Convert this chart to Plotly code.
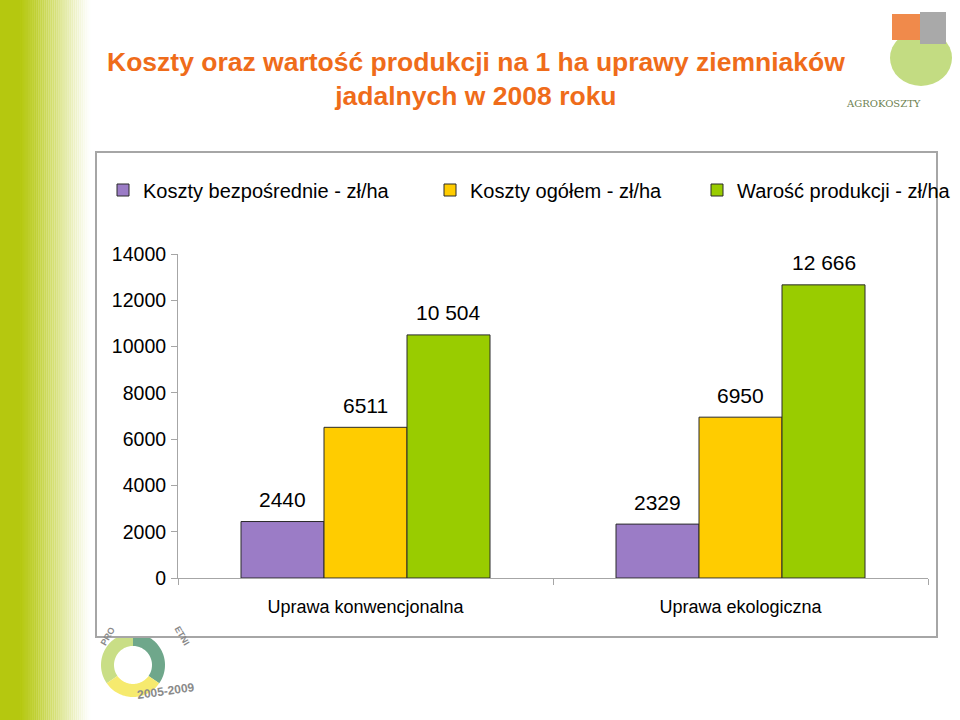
import numpy as np
import plotly.graph_objects as go

# ---------------- data ----------------
categories = ["Uprawa konwencjonalna", "Uprawa ekologiczna"]
series_names = ["Koszty bezpośrednie - zł/ha", "Koszty ogółem - zł/ha", "Warość produkcji - zł/ha"]
koszty_bezposrednie = [2440, 2329]
koszty_ogolem = [6511, 6950]
wartosc_produkcji = [10504, 12666]
labels_bezposrednie = ["2440", "2329"]
labels_ogolem = ["6511", "6950"]
labels_wartosc = ["10 504", "12 666"]
y_ticks = [0, 2000, 4000, 6000, 8000, 10000, 12000, 14000]
title_text = "Koszty oraz wartość produkcji na 1 ha uprawy ziemniaków<br>jadalnych w 2008 roku"

# ---------------- style ----------------
W, H = 960, 720
FONT = "Liberation Sans, Arial, Helvetica, sans-serif"
colors = ["#9B7CC6", "#FFCC00", "#99CC00"]
BARGAP = 0.336


def px(x):
    return x / W


def py(y):
    return 1 - y / H


fig = go.Figure()
series_vals = [koszty_bezposrednie, koszty_ogolem, wartosc_produkcji]
series_labels = [labels_bezposrednie, labels_ogolem, labels_wartosc]
legend_ids = ["legend", "legend2", "legend3"]
for name, vals, col, lg in zip(series_names, series_vals, colors, legend_ids):
    fig.add_trace(go.Bar(
        x=categories, y=vals, name=name, legend=lg,
        marker=dict(color=col, line=dict(color="#2a2a2a", width=1)),
        hoverinfo="x+y",
    ))

# value labels placed above bars (in axis coordinates)
bar_w = (1 - BARGAP) / 3
annotations = []
for j, (vals, labs) in enumerate(zip(series_vals, series_labels)):
    for i, (v, lab) in enumerate(zip(vals, labs)):
        annotations.append(dict(
            x=i + (j - 1) * bar_w, y=v, xref="x", yref="y",
            text=lab, showarrow=False, yshift=22, yanchor="middle",
            font=dict(family=FONT, size=21, color="#000000"),
        ))

# title
annotations.append(dict(
    x=px(476), y=py(79), xref="paper", yref="paper", text=title_text,
    showarrow=False, xanchor="center", yanchor="middle",
    font=dict(family=FONT, size=26.5, color="#EF6C1A", weight="bold"),
))
# logo texts
annotations.append(dict(x=px(923), y=py(96), xref="paper", yref="paper",
                        text="AGROKOSZTY", showarrow=False,
                        font=dict(family="DejaVu Serif, serif", size=10, color="#6D7F4F")))
annotations.append(dict(x=px(134), y=py(704), xref="paper", yref="paper",
                        text="<b>2005-2009</b>", showarrow=False, textangle=-8,
                        font=dict(family=FONT, size=12, color="#8A8A8A")))
annotations.append(dict(x=px(96), y=py(650), xref="paper", yref="paper",
                        text="<b>PRO</b>", showarrow=False, textangle=-60,
                        font=dict(family=FONT, size=9, color="#8A8A8A")))
annotations.append(dict(x=px(170), y=py(650), xref="paper", yref="paper",
                        text="<b>ETNI</b>", showarrow=False, textangle=60,
                        font=dict(family=FONT, size=9, color="#8A8A8A")))

shapes = []
# left gradient stripe
shapes.append(dict(type="rect", xref="paper", yref="paper", x0=0, x1=px(20), y0=0, y1=1,
                   fillcolor="#B5C80F", line=dict(width=0), layer="below"))
n = 36
for k in range(n):
    x0 = 20 + k * 70 / n
    shapes.append(dict(type="rect", xref="paper", yref="paper", x0=px(x0), x1=px(x0 + 70 / n + 0.5),
                       y0=0, y1=1, fillcolor="#B5C80F", opacity=(1 - (k + 0.5) / n) ** 1.2,
                       line=dict(width=0), layer="below"))


# bottom-left ring logo
def ring_path(cx, cy, r_out, r_in, a0, a1):
    t = np.radians(np.linspace(a0, a1, 40))
    ox = cx + r_out * np.cos(t)
    oy = cy - r_out * np.sin(t)
    ix = cx + r_in * np.cos(t[::-1])
    iy = cy - r_in * np.sin(t[::-1])
    pts = [(px(a), py(b)) for a, b in zip(np.concatenate([ox, ix]), np.concatenate([oy, iy]))]
    return "M " + " L ".join(f"{a:.5f},{b:.5f}" for a, b in pts) + " Z"


for a0, a1, col in [(90, 215, "#C9DE86"), (-35, 90, "#6FA78B"), (-145, -35, "#F6EA6E")]:
    shapes.append(dict(type="path", xref="paper", yref="paper", path=ring_path(133, 665, 32, 19, a0, a1),
                       fillcolor=col, line=dict(width=0), layer="below"))

# top-right logo
shapes.append(dict(type="circle", xref="paper", yref="paper", x0=px(890), x1=px(952), y0=py(86), y1=py(30),
                   fillcolor="#B9D66C", opacity=0.85, line=dict(width=0), layer="below"))
shapes.append(dict(type="rect", xref="paper", yref="paper", x0=px(892), x1=px(920), y0=py(40), y1=py(14),
                   fillcolor="#F08A4B", line=dict(width=0), layer="below"))
shapes.append(dict(type="rect", xref="paper", yref="paper", x0=px(920), x1=px(946), y0=py(44), y1=py(12),
                   fillcolor="#A9A9A9", line=dict(width=0), layer="below"))

# chart box
shapes.append(dict(type="rect", xref="paper", yref="paper", x0=px(96), x1=px(937), y0=py(637), y1=py(152),
                   fillcolor="#FFFFFF", line=dict(color="#A6A6A6", width=2), layer="below"))

legend_common = dict(orientation="h", xanchor="left", yanchor="middle",
                     font=dict(family=FONT, size=20, color="#000000"),
                     bgcolor="rgba(0,0,0,0)", borderwidth=0)

fig.update_layout(
    width=W, height=H,
    margin=dict(l=0, r=0, t=0, b=0, pad=0, autoexpand=False),
    paper_bgcolor="#FFFFFF", plot_bgcolor="rgba(0,0,0,0)",
    barmode="group", bargap=BARGAP, bargroupgap=0,
    showlegend=True,
    legend=dict(x=px(103), y=py(190), **legend_common),
    legend2=dict(x=px(430), y=py(190), **legend_common),
    legend3=dict(x=px(697), y=py(190), **legend_common),
    xaxis=dict(domain=[px(178), px(928)], type="category", automargin=False,
               showline=True, linecolor="#A6A6A6", linewidth=1,
               ticks="outside", tickson="boundaries", ticklen=6, tickcolor="#A6A6A6",
               ticklabelstandoff=12,
               tickfont=dict(family=FONT, size=18, color="#000000"),
               showgrid=False, zeroline=False, fixedrange=True),
    yaxis=dict(domain=[py(578), py(254)], range=[0, 14000], automargin=False,
               tickvals=y_ticks, ticktext=[str(v) for v in y_ticks],
               showline=True, linecolor="#A6A6A6", linewidth=1,
               ticks="outside", ticklen=6, tickcolor="#A6A6A6",
               ticklabelstandoff=1,
               tickfont=dict(family=FONT, size=19.5, color="#000000"),
               showgrid=False, zeroline=False, fixedrange=True),
    annotations=annotations,
    shapes=shapes,
)

fig.write_html("out.html", config={"displayModeBar": False},
               post_script="document.body.style.margin='0';")
